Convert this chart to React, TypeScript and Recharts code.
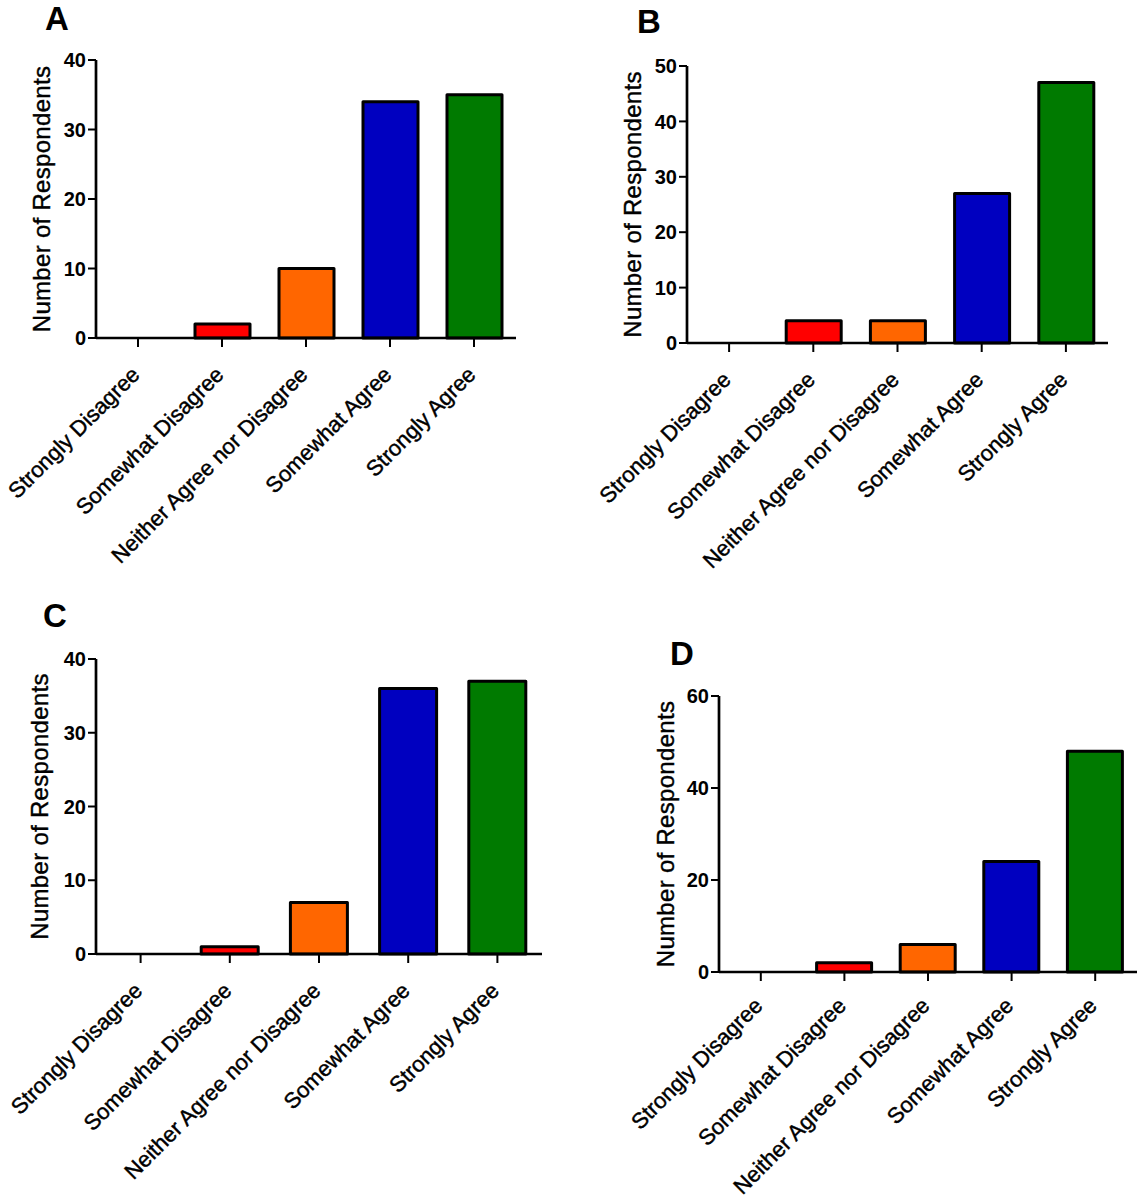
import React from 'react';
import { BarChart, Bar, XAxis, YAxis, Cell } from 'recharts';

const categories = [
  'Strongly Disagree',
  'Somewhat Disagree',
  'Neither Agree nor Disagree',
  'Somewhat Agree',
  'Strongly Agree',
];
const barColors = ['#FF0000', '#FF0000', '#FF6600', '#0000C0', '#007A00'];

const valuesA = [0, 2, 10, 34, 35];
const valuesB = [0, 4, 4, 27, 47];
const valuesC = [0, 1, 7, 36, 37];
const valuesD = [0, 2, 6, 24, 48];

const ticksA = [0, 10, 20, 30, 40];
const ticksB = [0, 10, 20, 30, 40, 50];
const ticksC = [0, 10, 20, 30, 40];
const ticksD = [0, 20, 40, 60];

const panelLetters = ['A', 'B', 'C', 'D'];
const yTitle = 'Number of Respondents';

const FONT = '"Liberation Sans", Arial, Helvetica, sans-serif';

const makeData = (values: number[]) =>
  categories.map((c, i) => ({ name: c, value: values[i] }));

const makeXTick = (dy: number) => (props: any) => {
  const { x, y, payload } = props;
  const ax = x + 3;
  const ay = y + dy;
  return (
    <text
      x={ax}
      y={ay}
      transform={`rotate(-45, ${ax}, ${ay})`}
      textAnchor="end"
      fontFamily={FONT}
      fontSize={22}
      fill="#000"
      stroke="#000"
      strokeWidth={0.45}
    >
      {payload.value}
    </text>
  );
};

type PanelProps = {
  values: number[];
  ticks: number[];
  left: number;
  top: number;
  width: number;
  height: number;
  axisX: number;
  axisEnd: number;
  yTop: number;
  yZero: number;
  barSize: number;
  labelX: number;
  tickDy: number;
};

const Panel = (p: PanelProps) => {
  const data = makeData(p.values);
  const max = p.ticks[p.ticks.length - 1];
  const TickComp = makeXTick(p.tickDy);
  return (
    <div style={{ position: 'absolute', left: p.left, top: p.top }}>
      <BarChart
        width={p.width}
        height={p.height}
        data={data}
        margin={{ top: p.yTop, right: p.width - p.axisEnd, left: 0, bottom: 0 }}
        barSize={p.barSize}
      >
        <XAxis
          dataKey="name"
          interval={0}
          height={p.height - p.yZero}
          axisLine={{ stroke: '#000', strokeWidth: 2.7 }}
          tickLine={{ stroke: '#000', strokeWidth: 2 }}
          tickSize={9}
          tick={<TickComp />}
        />
        <YAxis
          width={p.axisX}
          domain={[0, max]}
          ticks={p.ticks}
          interval={0}
          axisLine={{ stroke: '#000', strokeWidth: 2.7 }}
          tickLine={{ stroke: '#000', strokeWidth: 2 }}
          tickSize={8}
          tickMargin={2}
          tick={{ fill: '#000', fontSize: 20, fontWeight: 'bold', fontFamily: FONT }}
          label={{
            content: (lp: any) => {
              const vb = lp.viewBox || {};
              const cy = (vb.y || 0) + (vb.height || 0) / 2;
              return (
                <text
                  x={p.labelX}
                  y={cy}
                  transform={`rotate(-90, ${p.labelX}, ${cy})`}
                  textAnchor="middle"
                  fontFamily={FONT}
                  fontSize={24}
                  letterSpacing={0.3}
                  fill="#000"
                  stroke="#000"
                  strokeWidth={0.4}
                >
                  {yTitle}
                </text>
              );
            },
          }}
        />
        <Bar
          dataKey="value"
          isAnimationActive={false}
          stroke="#000"
          strokeWidth={3}
          strokeLinejoin="round"
        >
          {data.map((d, i) => (
            <Cell key={d.name} fill={barColors[i]} />
          ))}
        </Bar>
      </BarChart>
    </div>
  );
};

export default function App() {
  return (
    <div
      style={{
        position: 'absolute',
        left: 0,
        top: 0,
        width: 1139,
        height: 1200,
        background: '#fff',
        overflow: 'hidden',
      }}
    >
      <Panel
        values={valuesA}
        ticks={ticksA}
        left={0}
        top={0}
        width={560}
        height={590}
        axisX={96}
        axisEnd={516}
        yTop={60}
        yZero={338}
        barSize={55}
        labelX={50}
        tickDy={27}
      />
      <Panel
        values={valuesB}
        ticks={ticksB}
        left={570}
        top={0}
        width={569}
        height={590}
        axisX={117}
        axisEnd={538}
        yTop={66}
        yZero={343}
        barSize={55}
        labelX={71}
        tickDy={27}
      />
      <Panel
        values={valuesC}
        ticks={ticksC}
        left={0}
        top={590}
        width={560}
        height={610}
        axisX={96}
        axisEnd={542}
        yTop={69}
        yZero={364}
        barSize={57}
        labelX={48}
        tickDy={27}
      />
      <Panel
        values={valuesD}
        ticks={ticksD}
        left={570}
        top={630}
        width={569}
        height={570}
        axisX={149}
        axisEnd={567}
        yTop={66}
        yZero={342}
        barSize={55}
        labelX={104}
        tickDy={24}
      />
      <svg
        width={1139}
        height={1200}
        style={{ position: 'absolute', left: 0, top: 0, pointerEvents: 'none' }}
      >
        {[
          [45, 30],
          [637, 33],
          [43, 627],
          [670, 665],
        ].map(([x, y], i) => (
          <text
            key={panelLetters[i]}
            x={x}
            y={y}
            fontFamily={FONT}
            fontWeight="bold"
            fontSize={33}
            fill="#000"
          >
            {panelLetters[i]}
          </text>
        ))}
      </svg>
    </div>
  );
}
